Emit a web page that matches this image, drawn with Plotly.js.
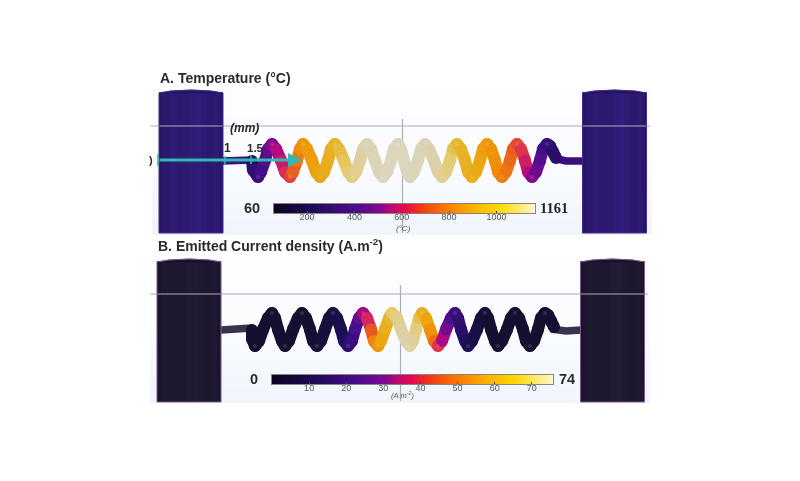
<!DOCTYPE html>
<html><head><meta charset="utf-8">
<script src="https://cdn.plot.ly/plotly-3.0.1.min.js"></script>
<style>html,body{margin:0;padding:0;background:#fff}#g{width:800px;height:481px;filter:blur(0.5px)}</style></head>
<body><div id="g"></div>
<script>
const barStops = [[0,'#0a0520'],[0.13,'#1a0a50'],[0.3,'#4a0a8c'],[0.4,'#7a0a90'],[0.45,'#c0086e'],[0.5,'#e8084c'],[0.57,'#f04010'],[0.66,'#ff7a00'],[0.76,'#ffb000'],[0.86,'#ffd800'],[0.93,'#ffe860'],[1,'#fff8d0']];
const tubeStops = [[0,'#14102a'],[0.13,'#1e0f60'],[0.3,'#4a0f8c'],[0.4,'#7a0a90'],[0.45,'#b80a80'],[0.5,'#d82a58'],[0.57,'#e85a20'],[0.66,'#f08a08'],[0.76,'#eba510'],[0.86,'#e6b428'],[0.9,'#e6cc70'],[0.95,'#ddd0a8'],[1,'#dcd6c0']];

// panel A: temperature
const tempRange = [60, 1161];
const tempTicks = [200, 400, 600, 800, 1000];
const coilAx = [252,253,258,
  261,265,268,272, 276,281,285,290,
  293,297,300,303, 307,312,316,320,
  324,328,331,335, 339,344,348,352,
  356,360,363,367, 371,375,379,383,
  387,391,394,398, 401,404,407,410,
  414,418,421,425, 429,434,438,442,
  446,450,453,457, 461,465,468,472,
  476,480,483,487, 491,495,498,502,
  506,510,513,517, 521,525,528,532,
  536,540,543,547,
  550,553,556];
const coilAy = [161,170,177,
  172,160.5,149,144, 149,160.5,172,177,
  172,160.5,149,144, 149,160.5,172,177,
  172,160.5,149,144, 149,160.5,172,177,
  172,160.5,149,144, 149,160.5,172,177,
  172,160.5,149,144, 149,160.5,172,177,
  172,160.5,149,144, 149,160.5,172,177,
  172,160.5,149,144, 149,160.5,172,177,
  172,160.5,149,144, 149,160.5,172,177,
  172,160.5,149,144, 149,160.5,172,177,
  172,160.5,149,144,
  146,152,158];
const coilAv = [220,260,300,
  340,390,440,490, 530,570,600,630,
  680,730,780,820, 840,860,880,900,
  925,950,975,1000, 1015,1030,1045,1060,
  1075,1090,1105,1120, 1128,1136,1143,1150,
  1153,1156,1159,1161, 1160,1158,1156,1155,
  1151,1148,1144,1140, 1130,1120,1110,1100,
  1080,1060,1040,1020, 1005,990,975,960,
  935,910,885,860, 840,820,800,780,
  755,730,705,680, 645,610,575,540,
  490,440,385,330,
  290,260,230];
const wireAx = [222,236,252];
const wireAy = [161,161,160];
const wireBx = [553,566,582];
const wireBy = [158,161,161];
const wireTempValue = 330;

// panel B: emitted current density
const curRange = [0, 75.7];
const curTicks = [10, 20, 30, 40, 50, 60, 70];
const coilBx = [252,252,255,
  259,263,268,272, 275,278,282,285,
  289,293,298,302, 306,310,313,317,
  321,325,329,333, 337,341,344,348,
  352,355,359,363, 367,371,374,378,
  381,385,389,392, 397,401,406,410,
  413,416,419,422, 426,430,434,438,
  442,446,451,455, 458,461,465,468,
  472,477,481,485, 488,491,495,498,
  502,507,511,515, 519,523,526,530,
  534,538,541,545,
  548,551,554];
const coilBy = [330,339,346,
  341,329.5,318,313, 318,329.5,341,346,
  341,329.5,318,313, 318,329.5,341,346,
  341,329.5,318,313, 318,329.5,341,346,
  341,329.5,318,313, 318,329.5,341,346,
  341,329.5,318,313, 318,329.5,341,346,
  341,329.5,318,313, 318,329.5,341,346,
  341,329.5,318,313, 318,329.5,341,346,
  341,329.5,318,313, 318,329.5,341,346,
  341,329.5,318,313, 318,329.5,341,346,
  341,329.5,318,313,
  315,321,327];
const coilBv = [1,1,1,
  1,1,1,1, 1,1,1,1,
  1,1,1,1, 1,1,1.5,2,
  2.5,3,3.5,4, 5,7,9,12,
  16,20,25,31, 35,40,46,52,
  56,60,64,67, 69,71,72,73,
  72,70,68,65, 60,55,50,42,
  36,31,26,20, 17,14,12,9,
  7,5,3,2, 1.5,1,1,1,
  1,1,1,1, 1,1,1,1,
  1,1,1,1,
  1,1,1];
const wireCx = [221,236,252];
const wireCy = [330,329,328];
const wireDx = [551,566,581];
const wireDy = [329,331,330];

// cylinder bands: horizontal edges and shade
const cylEdges = [0,4,10,18,24,30,36,42,48,54,60,64];
const cylShade = [0.2,0.5,0.7,0.6,0.55,0.9,1,0.7,0.55,0.7,0.3];
// background bands, top to bottom
const panelEdges = [0,0.2,0.35,0.5,0.6,0.7,0.8,0.9,1];
const panelShade = [0,0.1,0.2,0.3,0.45,0.6,0.8,1];

function hex(c){return [1,3,5].map(i=>parseInt(c.substr(i,2),16));}
function ramp(stops,t){
  t=Math.max(0,Math.min(1,t));
  for(let i=1;i<stops.length;i++){
    if(t<=stops[i][0]){
      const f=(t-stops[i-1][0])/(stops[i][0]-stops[i-1][0]);
      const a=hex(stops[i-1][1]),b=hex(stops[i][1]);
      return 'rgb('+a.map((v,k)=>Math.round(v+(b[k]-v)*f)).join(',')+')';
    }
  }
  return stops[stops.length-1][1];
}
const traces=[];
function panel(x0,x1,y0,y1){
  traces.push({type:'heatmap',x:[x0,x1],y:panelEdges.map(e=>y0+e*(y1-y0)),z:panelShade.map(s=>[s]),zmin:0,zmax:1,
    colorscale:[[0,'#fcfdff'],[1,'#f1f6fc']],showscale:false,hoverinfo:'skip'});
}
function guide(xs,ys){traces.push({type:'scatter',mode:'lines',x:xs,y:ys,line:{color:'#adadb2',width:1.2},hoverinfo:'skip'});}
function cylinder(left,top,bottom,dark,light,edge){
  const xs=cylEdges.map(o=>left+o);
  traces.push({type:'heatmap',x:xs,y:[top+2,bottom],z:[cylShade],zmin:0,zmax:1,
    colorscale:[[0,dark],[1,light]],showscale:false,hoverinfo:'skip'});
  traces.push({type:'scatter',mode:'lines',x:[left,left+12,left+32,left+52,left+64,left],
    y:[top+3,top+1,top,top+1,top+3,top+3],line:{color:dark,width:0.5},fill:'toself',fillcolor:dark,hoverinfo:'skip'});
  traces.push({type:'scatter',mode:'lines',x:[left,left,left+12,left+32,left+52,left+64,left+64,left],
    y:[bottom,top+3,top+1,top,top+1,top+3,bottom,bottom],line:{color:edge,width:1},hoverinfo:'skip'});
}
function wire(xs,ys,v,range,w,op){
  traces.push({type:'scatter',mode:'lines',x:xs,y:ys,line:{color:ramp(tubeStops,(v-range[0])/(range[1]-range[0])),width:w},opacity:op,hoverinfo:'skip'});
}
function coil(xs,ys,vs,range){
  for(let i=0;i<xs.length-1;i++){
    const c=ramp(tubeStops,((vs[i]+vs[i+1])/2-range[0])/(range[1]-range[0]));
    traces.push({type:'scatter',mode:'lines+markers',x:[xs[i],xs[i+1]],y:[ys[i],ys[i+1]],
      line:{color:c,width:12},marker:{color:c,size:12,line:{width:0}},hoverinfo:'skip'});
  }
  const sx=[],sy=[];
  for(let i=2;i<xs.length;i+=4){sx.push(xs[i]);sy.push(ys[i]);}
  traces.push({type:'scatter',mode:'markers',x:sx,y:sy,marker:{color:'rgba(255,255,255,0.12)',size:4,line:{width:0}},hoverinfo:'skip'});
}
panel(152,652,88,235);
panel(150,650,257,403);
guide([150,650],[126,126]);
guide([402.5,402.5],[119,233]);
guide([150,648],[294,294]);
guide([400.5,400.5],[285,401]);
wire(wireAx,wireAy,wireTempValue,tempRange,7.5,1);
wire(wireBx,wireBy,wireTempValue,tempRange,7.5,1);
wire(wireCx,wireCy,1,curRange,7.5,0.85);
wire(wireDx,wireDy,1,curRange,7.5,0.85);
cylinder(159,90,233,'#24145f','#301c7c','#46288f');
cylinder(582.5,90,233,'#24145f','#301c7c','#46288f');
cylinder(157,259,402,'#17122a','#221b34','#7d5590');
cylinder(580.5,259,402,'#17122a','#221b34','#7d5590');
coil(coilAx,coilAy,coilAv,tempRange);
coil(coilBx,coilBy,coilBv,curRange);
// teal scale ticks along the arrow
traces.push({type:'scatter',mode:'lines',x:[158,158,null,225,225,null,251,251],y:[154,166,null,156,164,null,156,164],
  line:{color:'#2ebcb2',width:1.6},hoverinfo:'skip'});
// legends
function legend(vals,range,xn,yn){
  const zs=[range[0],...vals,range[1]];
  traces.push({type:'heatmap',x:zs,y:[0,1],z:[zs,zs],zsmooth:'best',zmin:range[0],zmax:range[1],
    colorscale:barStops,showscale:false,hoverinfo:'skip',xaxis:xn,yaxis:yn});
}
legend(tempTicks,tempRange,'x2','y2');
legend(curTicks,curRange,'x3','y3');

const H=481,W=800;
function barAxis(range,ticks,x0,x1,anchor){
  return {domain:[x0/W,x1/W],range:range,tickvals:ticks,ticktext:ticks.map(String),ticks:'inside',ticklen:2,tickcolor:'#444',tickwidth:1,ticklabelstandoff:-5,
    tickfont:{family:'"Liberation Sans",Arial,sans-serif',size:9,color:'#555'},anchor:anchor,showgrid:false,zeroline:false,
    showline:true,linecolor:'#8a8478',linewidth:1,mirror:true,fixedrange:true};
}
function barY(y0,y1,anchor){
  return {domain:[(H-y1)/H,(H-y0)/H],range:[0,1],anchor:anchor,visible:true,showticklabels:false,ticks:'',showgrid:false,zeroline:false,
    showline:true,linecolor:'#8a8478',linewidth:1,mirror:true,fixedrange:true};
}
function txt(t,x,y,size,opts){
  return Object.assign({text:t,x:x,y:y,xref:'x',yref:'y',showarrow:false,xanchor:'center',yanchor:'middle',
    font:{family:'"Liberation Sans",Arial,sans-serif',size:size,color:'#2a2a2a'}},opts||{});
}
const layout={
  width:W,height:H,margin:{l:0,r:0,t:0,b:0},paper_bgcolor:'#fff',plot_bgcolor:'#fff',showlegend:false,
  xaxis:{range:[0,W],domain:[0,1],visible:false,fixedrange:true},
  yaxis:{range:[H,0],domain:[0,1],visible:false,fixedrange:true},
  xaxis2:barAxis(tempRange,tempTicks,274,534.5,'y2'),
  yaxis2:barY(204,213,'x2'),
  xaxis3:barAxis(curRange,curTicks,272,553,'y3'),
  yaxis3:barY(375,384,'x3'),
  annotations:[
    txt('<b>A. Temperature (°C)</b>',158,78,14,{xanchor:'left'}),
    txt('<b>B. Emitted Current density (A.m<sup>-2</sup>)</b>',156,245,14,{xanchor:'left'}),
    txt('<b><i>(mm)</i></b>',244,128,12),
    txt('<b>1</b>',227,148,12),
    txt('<b>1.5</b>',255,148,11.5),
    txt('<b>)</b>',151,160,11),
    txt('<b>60</b>',252,208,14.5),
    txt('<b>1161</b>',554,208,14.5,{font:{family:'"Liberation Serif",serif',size:14.5,color:'#222'}}),
    txt('<b>0</b>',254,379,14.5),
    txt('<b>74</b>',567,379,14.5),
    txt('<i>(°C)</i>',403,228,8,{font:{family:'"Liberation Sans",Arial,sans-serif',size:8,color:'#555'}}),
    txt('<i>(A.m<sup>-2</sup>)</i>',403,395,7.5,{font:{family:'"Liberation Sans",Arial,sans-serif',size:7.5,color:'#555'}}),
    {x:302,y:160,ax:158,ay:160,xref:'x',yref:'y',axref:'x',ayref:'y',showarrow:true,arrowhead:2,arrowsize:1,arrowwidth:2.8,arrowcolor:'#2ebcb2',text:''}
  ]
};
Plotly.newPlot('g',traces,layout,{displayModeBar:false,staticPlot:true});
</script></body></html>
